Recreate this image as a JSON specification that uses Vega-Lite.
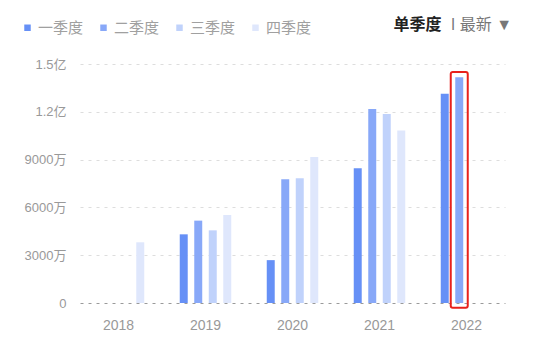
{
  "$schema": "https://vega.github.io/schema/vega-lite/v6.json",
  "width": 425,
  "height": 239,
  "autosize": {"type": "none"},
  "padding": {"left": 80, "top": 64, "right": 33, "bottom": 36},
  "background": "#ffffff",
  "title": {
    "text": "ǀ 最新 ▼",
    "anchor": "end",
    "frame": "group",
    "font": "Liberation Sans, Noto Sans CJK SC",
    "fontSize": 16,
    "fontWeight": "normal",
    "color": "#777777",
    "offset": 0,
    "dx": 7,
    "dy": 17
  },
  "data": {
    "values": [
      {"year": "2018", "quarter": "四季度", "value": 3810},
      {"year": "2019", "quarter": "一季度", "value": 4310},
      {"year": "2019", "quarter": "二季度", "value": 5170},
      {"year": "2019", "quarter": "三季度", "value": 4560},
      {"year": "2019", "quarter": "四季度", "value": 5520},
      {"year": "2020", "quarter": "一季度", "value": 2690},
      {"year": "2020", "quarter": "二季度", "value": 7760},
      {"year": "2020", "quarter": "三季度", "value": 7830},
      {"year": "2020", "quarter": "四季度", "value": 9170},
      {"year": "2021", "quarter": "一季度", "value": 8450},
      {"year": "2021", "quarter": "二季度", "value": 12180},
      {"year": "2021", "quarter": "三季度", "value": 11860},
      {"year": "2021", "quarter": "四季度", "value": 10820},
      {"year": "2022", "quarter": "一季度", "value": 13140},
      {"year": "2022", "quarter": "二季度", "value": 14170}
    ]
  },
  "encoding": {
    "x": {
      "field": "year",
      "type": "nominal",
      "scale": {"domain": ["2018", "2019", "2020", "2021", "2022"], "paddingInner": 0.333, "paddingOuter": 0.109},
      "axis": {
        "title": null,
        "labelAngle": 0,
        "ticks": false,
        "domain": false,
        "labelFontSize": 14,
        "labelColor": "#999999",
        "labelPadding": 15,
        "labelFont": "Liberation Sans, Noto Sans CJK SC"
      }
    },
    "xOffset": {
      "field": "quarter",
      "type": "nominal",
      "scale": {"domain": ["一季度", "二季度", "三季度", "四季度"], "paddingInner": 0.45, "paddingOuter": 0.225}
    }
  },
  "layer": [
    {
      "mark": {"type": "bar"},
      "encoding": {
        "y": {
          "field": "value",
          "type": "quantitative",
          "scale": {"domain": [0, 15000], "nice": false},
          "axis": {
            "title": "单季度",
            "titleAngle": 0,
            "titleX": 313,
            "titleY": -40,
            "titleAlign": "left",
            "titleBaseline": "middle",
            "titleFont": "Liberation Sans, Noto Sans CJK SC",
            "titleFontSize": 16,
            "titleFontWeight": "bold",
            "titleColor": "#222222",
            "values": [0, 3000, 6000, 9000, 12000, 15000],
            "labelExpr": "datum.value >= 10000 ? format(datum.value / 10000, '.1f') + '亿' : (datum.value == 0 ? '0' : datum.value + '万')",
            "ticks": false,
            "domain": false,
            "labelFontSize": 13,
            "labelColor": "#999999",
            "labelPadding": 14,
            "labelFont": "Liberation Sans, Noto Sans CJK SC",
            "grid": true,
            "gridDash": [3, 5],
            "gridColor": {"condition": {"test": "datum.value === 0", "value": "#9a9a9a"}, "value": "#dddddd"},
            "gridWidth": 1
          }
        },
        "color": {
          "field": "quarter",
          "type": "nominal",
          "scale": {
            "domain": ["一季度", "二季度", "三季度", "四季度"],
            "range": ["#6690f6", "#88a8f8", "#c0d2fb", "#dfe7fc"]
          },
          "legend": {
            "title": null,
            "orient": "none",
            "direction": "horizontal",
            "legendX": -60,
            "legendY": -44,
            "symbolType": "square",
            "symbolSize": 42,
            "symbolStrokeWidth": 0,
            "labelFontSize": 15,
            "labelColor": "#a0a0a0",
            "labelFont": "Liberation Sans, Noto Sans CJK SC",
            "labelOffset": 3,
            "columnPadding": 12
          }
        }
      }
    },
    {
      "transform": [{"filter": "datum.year == '2022' && datum.quarter == '二季度'"}],
      "mark": {
        "type": "bar",
        "fill": null,
        "stroke": "#e8211c",
        "strokeWidth": 2,
        "cornerRadius": 2,
        "width": 17
      },
      "encoding": {
        "y": {"datum": 14500, "type": "quantitative"},
        "y2": {"datum": -300}
      }
    }
  ],
  "config": {"view": {"stroke": null}}
}
